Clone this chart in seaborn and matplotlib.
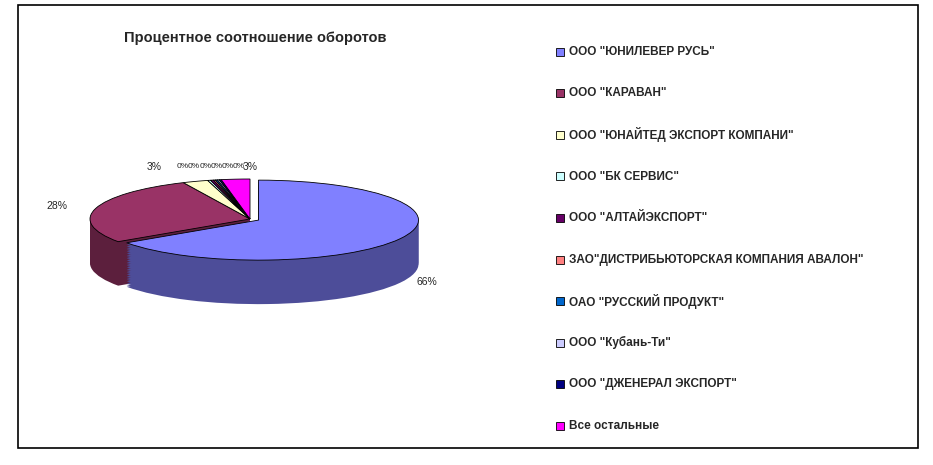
import matplotlib
matplotlib.use("Agg")
import matplotlib.pyplot as plt
import matplotlib.colors as mc
import seaborn as sns
import numpy as np

sns.set_theme(style="white")
plt.rcParams["font.family"] = "Liberation Sans"

title = "Процентное соотношение оборотов"
companies = ['ООО "ЮНИЛЕВЕР РУСЬ"', 'ООО "КАРАВАН"', 'ООО "ЮНАЙТЕД ЭКСПОРТ КОМПАНИ"',
             'ООО "БК СЕРВИС"', 'ООО "АЛТАЙЭКСПОРТ"', 'ЗАО"ДИСТРИБЬЮТОРСКАЯ КОМПАНИЯ АВАЛОН"',
             'ОАО "РУССКИЙ ПРОДУКТ"', 'ООО "Кубань-Ти"', 'ООО "ДЖЕНЕРАЛ ЭКСПОРТ"', 'Все остальные']
shares = [66.0, 28.0, 2.6, 0.3, 0.3, 0.2, 0.2, 0.2, 0.2, 2.9]
colors = ["#8080FF", "#993366", "#FFFFCC", "#CCFFFF", "#660066", "#FF8080",
          "#0066CC", "#CCCCFF", "#000080", "#FF00FF"]
explode = [0.06, 0, 0, 0, 0, 0, 0, 0, 0, 0]

fig = plt.figure(figsize=(9.33, 4.65), dpi=100)
fig.patches.append(plt.Rectangle((18/933, 1-448/465), 900/933, 443/465, transform=fig.transFigure,
                                 fill=False, edgecolor="black", linewidth=1.2))
fig.text(255/933, 1-38/465, title, ha="center", va="center", fontsize=10.5, fontweight="bold")

W, H = 933, 465
l, r, t, b = 60, 440, 130, 330
ax = fig.add_axes([l/W, 1-b/H, (r-l)/W, (b-t)/H])
cx, cy, rx, ry, depth = 250, 219, 160, 40, 44
d = depth/ry
n = 25
for i in range(n, 0, -1):
    off = -d*i/n
    side = [tuple(np.array(mc.to_rgb(c))*0.6) for c in colors]
    ax.pie(shares, colors=side, startangle=90, counterclock=False, explode=explode,
           center=(0, off), radius=1, frame=True, wedgeprops=dict(linewidth=0))
pct_labels = [f"{round(s)}%" for s in shares]
wedges, _ = ax.pie(shares, colors=colors, startangle=90, counterclock=False, explode=explode,
                   radius=1, frame=True, wedgeprops=dict(linewidth=0.6, edgecolor="black"))
small_x = -0.55
for i, (w, lab) in enumerate(zip(wedges, pct_labels)):
    ang = np.deg2rad((w.theta1 + w.theta2)/2)
    x, y = np.cos(ang)*1.25, np.sin(ang)*1.25
    if y < 0:
        y -= d*0.9
    if 3 <= i <= 8:
        x = -0.42 + (i-3)*0.07
        y = 1.3
        ax.text(x, y, lab, ha="center", va="center", fontsize=6)
        continue
    if i == 2:
        x, y = -0.6, 1.3
    if i == 9:
        x, y = 0.0, 1.3
    ax.text(x, y, lab, ha="center", va="center", fontsize=7.5)
ax.set_aspect("auto")
ax.set_xlim(-(cx-l)/rx, (r-cx)/rx)
ax.set_ylim(-(b-cy)/ry, (cy-t)/ry)
ax.axis("off")

for i, (c, name) in enumerate(zip(colors, companies)):
    y = 1 - (52 + i*41.5)/H
    fig.patches.append(plt.Rectangle((556/W, y-4/H), 8/W, 8/H, transform=fig.transFigure,
                                     facecolor=c, edgecolor="black", linewidth=0.6))
    fig.text(569/W, y, name, ha="left", va="center", fontsize=8.5, fontweight="bold")

fig.savefig("out.png", dpi=100, facecolor="white")
